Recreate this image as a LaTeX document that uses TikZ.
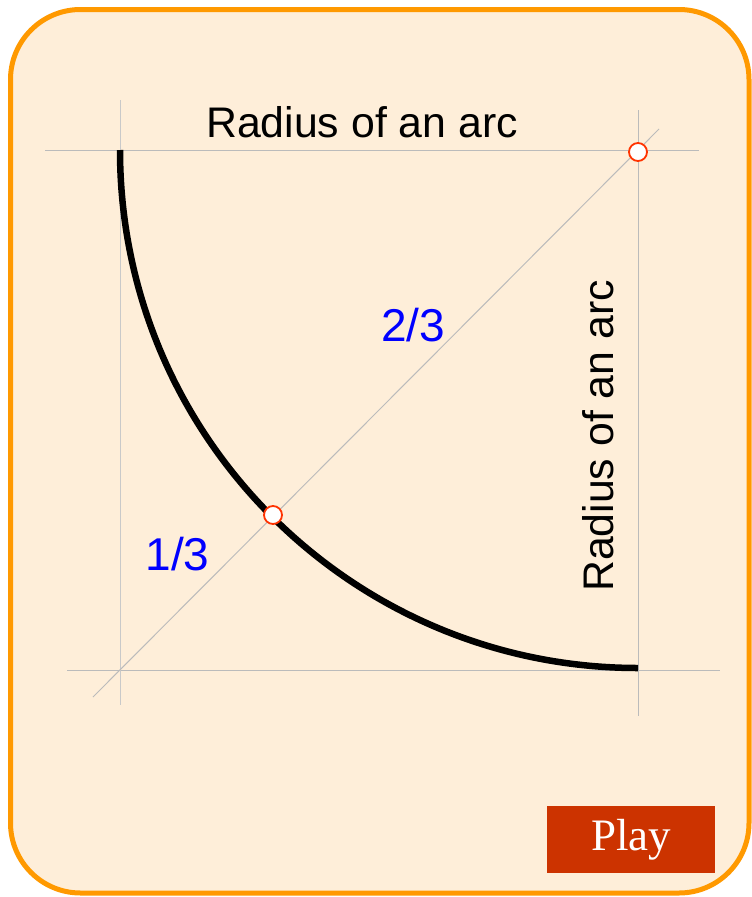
\documentclass[tikz,border=0pt]{standalone}
\usepackage{fontspec}
\setmainfont{Liberation Sans}
\newfontfamily\playfont{Liberation Serif}
\definecolor{bgfill}{HTML}{FEEED9}
\definecolor{frame}{HTML}{FF9900}
\definecolor{guide}{HTML}{BBBBBB}
\definecolor{mark}{HTML}{FF3300}
\definecolor{btn}{HTML}{CC3300}
\tikzset{
  guideline/.style={draw=guide, line width=1pt},
  marker/.style={circle, draw=mark, fill=white, line width=1.8pt, minimum size=18pt, inner sep=0pt},
  label/.style={font=\fontsize{42.8}{50}\selectfont, inner sep=0pt},
  frac/.style={font=\fontsize{46}{52}\selectfont, inner sep=0pt, text=blue},
}
\begin{document}
\begin{tikzpicture}[x=1pt,y=-1pt]
\useasboundingbox (0,0) rectangle (752,897);
\draw[fill=bgfill, draw=frame, line width=5pt, rounded corners=70pt] (10.5,9.5) rectangle (749,893);
% guides
\coordinate (TL) at (120,150);
\coordinate (TR) at (638,150);
\coordinate (BL) at (120,670);
\coordinate (BR) at (638,670);
\draw[guideline] (45,150) -- (699,150);
\draw[guideline] (67,670) -- (720,670);
\draw[guideline, draw=guide!80] (120,100) -- (120,705);
\draw[guideline] (638,110) -- (638,716);
\draw[guideline] (93,697) -- (659,129);
% arc centred at TR (y axis points down, so angle 90 is downwards)
\draw[line width=6.5pt] (TL) arc[start angle=180, end angle=90, radius=518];
\node[marker] (m1) at (638,152) {};
\node[marker] (m2) at (273,515) {};
\node[label] (t1) at (362,122) {Radius of an arc};
\node[label, rotate=90] (t2) at (598,436) {Radius of an arc};
\node[frac] (f2) at (413,325) {2/3};
\node[frac] (f1) at (177.5,554.5) {1/3};
\node[fill=btn, minimum width=168pt, minimum height=67pt, inner sep=0pt, text=white, font=\playfont\fontsize{45}{50}\selectfont] (play) at (631,839.5) {Play};
\end{tikzpicture}
\end{document}
